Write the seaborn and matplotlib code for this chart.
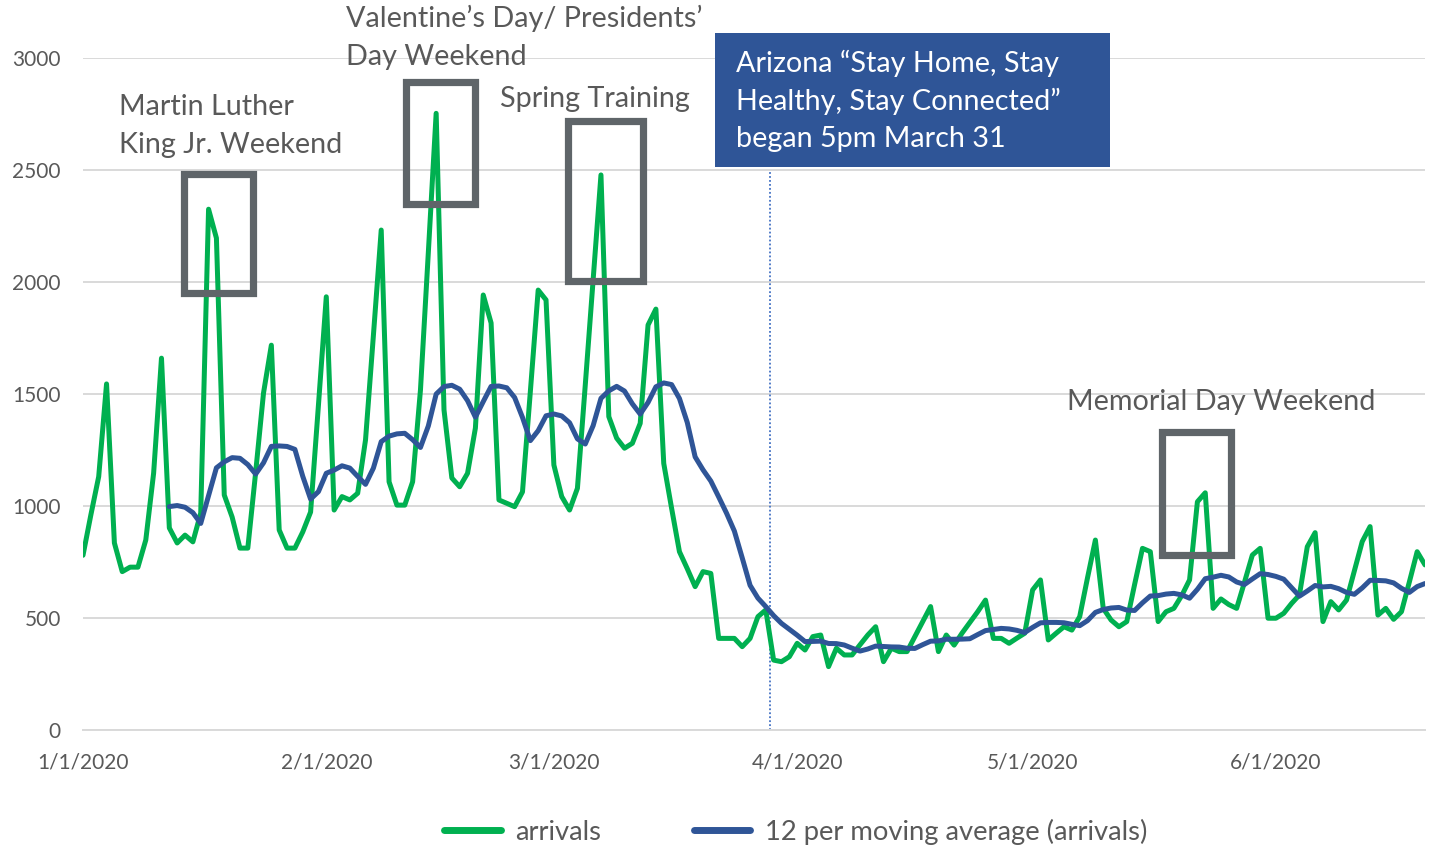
import matplotlib
matplotlib.use("Agg")
import matplotlib.pyplot as plt
import matplotlib.dates as mdates
from matplotlib.patches import Rectangle
import pandas as pd
import seaborn as sns

# daily arrivals, 1/1/2020 onwards
arrivals = [
    780, 960, 1131, 1545, 835, 707, 727, 727, 848, 1147,
    1660, 902, 835, 870, 840, 968, 2325, 2196, 1049, 951,
    812, 812, 1150, 1504, 1718, 893, 812, 812, 884, 973,
    1450, 1934, 982, 1042, 1027, 1057, 1295, 1760, 2232, 1108,
    1004, 1004, 1108, 1518, 2130, 2753, 1429, 1125, 1086, 1146,
    1348, 1942, 1817, 1027, 1012, 997, 1063, 1510, 1964, 1920,
    1183, 1042, 982, 1079, 1540, 2010, 2478, 1399, 1303, 1258,
    1280, 1369, 1808, 1879, 1190, 990, 796, 720, 640, 707,
    699, 409, 409, 409, 372, 409, 506, 536, 312, 305,
    327, 387, 357, 417, 424, 283, 365, 335, 335, 380,
    424, 461, 305, 365, 350, 350, 417, 485, 551, 350,
    424, 379, 432, 480, 528, 580, 409, 409, 387, 410,
    432, 625, 670, 402, 432, 461, 446, 506, 680, 848,
    543, 491, 461, 484, 650, 811, 796, 484, 528, 543,
    600, 670, 1019, 1059, 543, 585, 560, 543, 660, 781,
    811, 499, 499, 521, 565, 603, 818, 881, 484, 573,
    536, 580, 710, 841, 908, 513, 543, 494, 528, 660,
    796, 737,
]
start_date = "2020-01-01"
ma_window = 12
month_ticks = ["2020-01-01", "2020-02-01", "2020-03-01", "2020-04-01", "2020-05-01", "2020-06-01"]
month_labels = ["1/1/2020", "2/1/2020", "3/1/2020", "4/1/2020", "5/1/2020", "6/1/2020"]

GREEN = "#00B050"
BLUE = "#2F5597"
GREY = "#595959"
BOXGREY = "#5F6569"

dates = pd.date_range(start_date, periods=len(arrivals), freq="D")
df = pd.DataFrame({"date": dates, "arrivals": arrivals})
# Excel-style 12 period moving average trendline
df["ma"] = df["arrivals"].rolling(ma_window).mean()

sns.set_theme(style="white")
plt.rcParams["font.family"] = ["Lato", "DejaVu Sans"]

W, H = 1434, 848
fig = plt.figure(figsize=(W / 100, H / 100), dpi=100)
ax = fig.add_axes([83 / W, 1 - 730 / H, (1425 - 83) / W, (730 - 58) / H])

sns.lineplot(data=df, x="date", y="arrivals", color=GREEN, lw=3.6, ax=ax, label="arrivals")
sns.lineplot(data=df.dropna(), x="date", y="ma", color=BLUE, lw=3.6, ax=ax,
             label="12 per moving average (arrivals)")

ax.set_xlim(dates[0], dates[-1])
ax.set_ylim(0, 3000)
ax.set_yticks(range(0, 3001, 500))
ax.set_xticks(pd.to_datetime(month_ticks))
ax.set_xticklabels(month_labels)
ax.set_xlabel("")
ax.set_ylabel("")
ax.yaxis.grid(True, color="#D9D9D9", lw=1.4)
ax.xaxis.grid(False)
for s in ["left", "top", "right"]:
    ax.spines[s].set_visible(False)
ax.spines["bottom"].set_color("#D9D9D9")
ax.spines["bottom"].set_linewidth(1.4)
ax.tick_params(axis="x", length=7, width=1.2, color="#D9D9D9", pad=9, labelsize=15, labelcolor=GREY)
ax.tick_params(axis="y", length=0, pad=16, labelsize=15, labelcolor=GREY)


def dnum(day):
    return mdates.date2num(dates[0]) + day


# highlight boxes around the holiday peaks (day offset, value)
boxes = [(12.9, 1949, 21.6, 2480), (41.1, 2346, 49.9, 2895),
         (61.8, 2004, 71.3, 2717), (137.5, 783, 146.3, 1330)]
for x0, y0, x1, y1 in boxes:
    ax.add_patch(Rectangle((dnum(x0), y0), dnum(x1) - dnum(x0), y1 - y0, fill=False,
                           edgecolor=BOXGREY, lw=5.2, clip_on=False, zorder=5))

# stay-at-home order marker
ax.plot([dnum(87.5), dnum(87.5)], [0, 2490], color="#4472C4", lw=1.3, ls=(0, (1, 1.2)), zorder=1)


def ftext(x, y, s, **kw):
    fig.text(x / W, 1 - y / H, s, va="center", ha="left", fontsize=20.7, **kw)


ftext(119, 107, "Martin Luther", color=GREY)
ftext(119, 145, "King Jr. Weekend", color=GREY)
ftext(346, 18, "Valentine\u2019s Day/ Presidents\u2019", color=GREY)
ftext(346, 57, "Day Weekend", color=GREY)
ftext(500, 99, "Spring Training", color=GREY)
ftext(1067, 402, "Memorial Day Weekend", color=GREY)

fig.patches.append(Rectangle((715 / W, 1 - 167 / H), (1110 - 715) / W, (167 - 33) / H,
                             transform=fig.transFigure, facecolor=BLUE, edgecolor="none", zorder=6))
ftext(736, 63, "Arizona \u201cStay Home, Stay", color="white", zorder=7)
ftext(736, 101, "Healthy, Stay Connected\u201d", color="white", zorder=7)
ftext(736, 139, "began 5pm March 31", color="white", zorder=7)

leg = ax.legend(loc="center", bbox_to_anchor=(796 / W, 1 - 832 / H), bbox_transform=fig.transFigure,
                ncol=2, frameon=False, fontsize=19.7, handlelength=2.05, handletextpad=0.54,
                columnspacing=3.4, labelcolor=GREY)
for line in leg.get_lines():
    line.set_linewidth(5)

fig.savefig("out.png", dpi=100)
